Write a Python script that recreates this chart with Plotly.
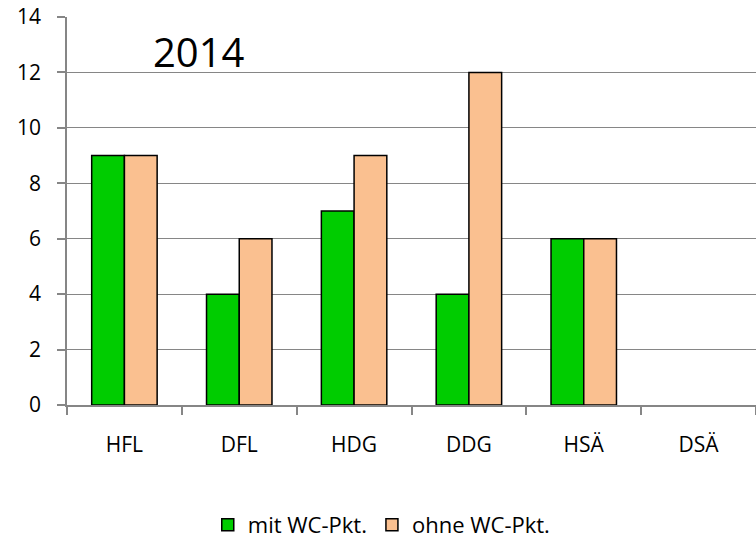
import plotly.graph_objects as go

categories = ["HFL", "DFL", "HDG", "DDG", "HSÄ", "DSÄ"]
mit_wc = [9, 4, 7, 4, 6, None]
ohne_wc = [9, 6, 9, 12, 6, None]
y_ticks = [0, 2, 4, 6, 8, 10, 12, 14]

font_family = "Open Sans, Liberation Sans, sans-serif"

fig = go.Figure()
fig.add_trace(go.Bar(x=categories, y=mit_wc, name="mit WC-Pkt.",
                     marker=dict(color="#00CC00", line=dict(color="black", width=1.5))))
fig.add_trace(go.Bar(x=categories, y=ohne_wc, name="ohne WC-Pkt.",
                     marker=dict(color="#FAC090", line=dict(color="black", width=1.5))))

fig.add_annotation(text="2014", x=0.192, y=0.912, xref="paper", yref="paper",
                   xanchor="center", yanchor="middle", showarrow=False,
                   font=dict(size=40, color="black", family=font_family))

fig.update_layout(
    width=756, height=540,
    margin=dict(l=67, r=0, t=17, b=135),
    paper_bgcolor="white", plot_bgcolor="white",
    barmode="group", bargap=0.43, bargroupgap=0,
    font=dict(family=font_family, size=21, color="black"),
    showlegend=True,
    legend=dict(orientation="h", xref="container", x=0.505, xanchor="center",
                yref="container", y=0.028, yanchor="middle",
                font=dict(size=22), itemwidth=30),
    xaxis=dict(type="category", showline=True, linecolor="#868686", linewidth=1.5,
               ticks="outside", tickson="boundaries", ticklen=8, tickcolor="#868686",
               tickwidth=1.5, ticklabelstandoff=20, showgrid=False),
    yaxis=dict(range=[0, 14], tickvals=y_ticks, showline=True, linecolor="#868686",
               linewidth=1.5, ticks="outside", ticklen=8, tickcolor="#868686",
               tickwidth=1.5, showgrid=True, gridcolor="#868686", gridwidth=1,
               ticklabelstandoff=12, zeroline=False),
)

# page body has a default 8px margin; remove it so the figure sits at 0,0
fig.write_html("out.html", config={"displayModeBar": False},
               post_script="document.body.style.margin='0px';")
